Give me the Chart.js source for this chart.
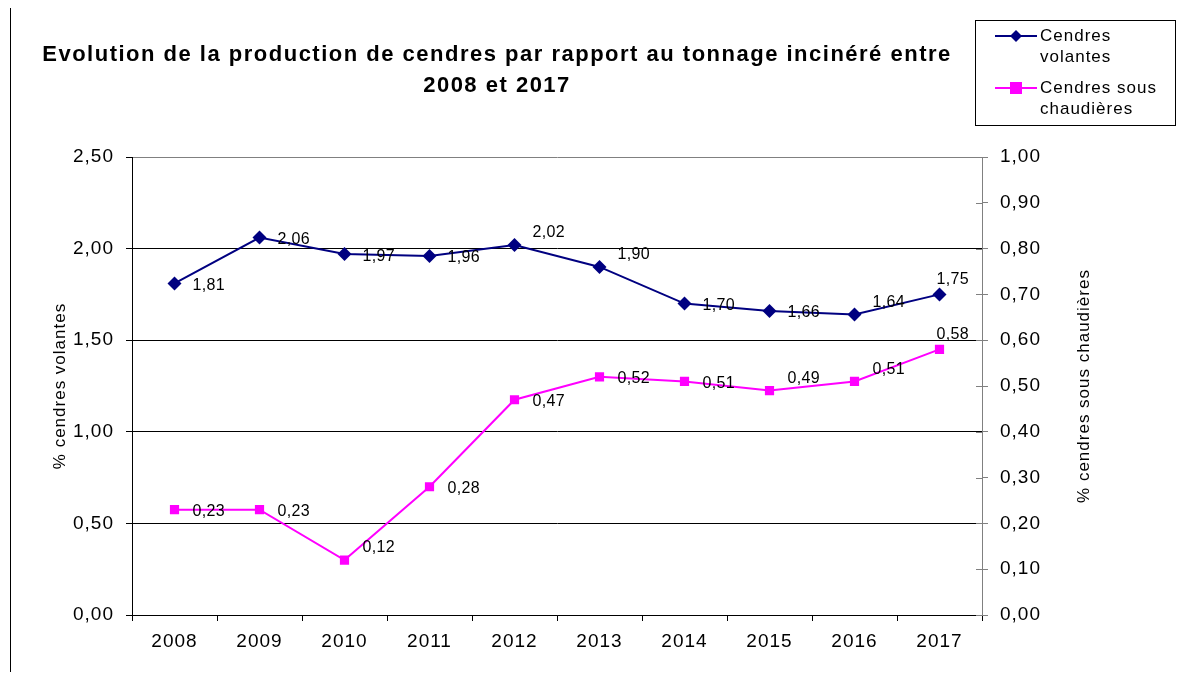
<!DOCTYPE html>
<html>
<head>
<meta charset="utf-8">
<script src="https://cdn.jsdelivr.net/npm/chart.js@4"></script>
<style>
  html, body { margin: 0; padding: 0; background: #fff; }
  #wrap { width: 1186px; height: 677px; position: relative; }
</style>
</head>
<body>
<div id="wrap"><canvas id="myChart"></canvas></div>
<script>
// donnees
const annees = ['2008', '2009', '2010', '2011', '2012', '2013', '2014', '2015', '2016', '2017'];
const cendresVolantes = [1.81, 2.06, 1.97, 1.96, 2.02, 1.90, 1.70, 1.66, 1.64, 1.75];
const cendresChaudieres = [0.23, 0.23, 0.12, 0.28, 0.47, 0.52, 0.51, 0.49, 0.51, 0.58];
const titre = ['Evolution de la production de cendres par rapport au tonnage incinéré entre', '2008 et 2017'];

const fmt = v => v.toFixed(2).replace('.', ',');
const FONT = '"Liberation Sans", Arial, sans-serif';

// position des etiquettes (droite par defaut, quelques-unes au-dessus)
const etiqVolantes = ['r', 'r', 'r', 'r', 'ur', 'ur', 'r', 'r', 'ur', 'up'];
const etiqChaud = ['r', 'r', 'ur', 'r', 'r', 'r', 'r', 'ur', 'ur', 'up'];

const espacement = {
  id: 'espacement',
  beforeDraw(chart) {
    chart.ctx.letterSpacing = '1px';
  }
};

const decor = {
  id: 'decor',
  afterDraw(chart) {
    const ctx = chart.ctx;
    const area = chart.chartArea;
    ctx.save();

    // trait vertical a gauche
    ctx.strokeStyle = '#000';
    ctx.lineWidth = 1;
    ctx.beginPath();
    ctx.moveTo(10.5, 8);
    ctx.lineTo(10.5, 672);
    ctx.stroke();

    // titre
    ctx.fillStyle = '#000';
    ctx.font = 'bold 22px ' + FONT;
    ctx.letterSpacing = '1.5px';
    ctx.textAlign = 'center';
    ctx.textBaseline = 'middle';
    ctx.fillText(titre[0], 497, 55);
    ctx.fillText(titre[1], 497, 86);

    // titres des axes
    ctx.font = '17px ' + FONT;
    ctx.letterSpacing = '1px';
    ctx.save();
    ctx.translate(60, (area.top + area.bottom) / 2);
    ctx.rotate(-Math.PI / 2);
    ctx.fillText('% cendres volantes', 0, 0);
    ctx.restore();
    ctx.save();
    ctx.translate(1084, (area.top + area.bottom) / 2);
    ctx.rotate(-Math.PI / 2);
    ctx.fillText('% cendres sous chaudières', 0, 0);
    ctx.restore();

    // petits traits interieurs sur l'axe de droite
    const y2 = chart.scales.y2;
    ctx.strokeStyle = '#808080';
    y2.ticks.forEach((t, i) => {
      const py = Math.round(y2.getPixelForTick(i)) + 0.5;
      ctx.beginPath();
      ctx.moveTo(area.right - 6, py);
      ctx.lineTo(area.right, py);
      ctx.stroke();
    });

    // etiquettes de donnees
    ctx.font = '16px ' + FONT;
    ctx.letterSpacing = '0.3px';
    ctx.fillStyle = '#000';
    ctx.textAlign = 'left';
    ctx.textBaseline = 'middle';
    const poses = [etiqVolantes, etiqChaud];
    chart.data.datasets.forEach((ds, di) => {
      const meta = chart.getDatasetMeta(di);
      meta.data.forEach((pt, i) => {
        const p = poses[di][i];
        let x = pt.x + 18, y = pt.y + 2;
        if (p === 'ur') { y = pt.y - 12; }
        if (p === 'up') { x = pt.x - 3; y = pt.y - 15; }
        ctx.fillText(fmt(ds.data[i]), x, y);
      });
    });

    // legende
    ctx.strokeStyle = '#000';
    ctx.lineWidth = 1;
    ctx.strokeRect(975.5, 20.5, 200, 105);
    const items = [
      { c: '#000080', style: 'rectRot', y: 36, l: ['Cendres', 'volantes'] },
      { c: '#FF00FF', style: 'rect', y: 88, l: ['Cendres sous', 'chaudières'] }
    ];
    items.forEach(it => {
      ctx.strokeStyle = it.c;
      ctx.lineWidth = 2;
      ctx.beginPath();
      ctx.moveTo(995, it.y);
      ctx.lineTo(1037, it.y);
      ctx.stroke();
      ctx.fillStyle = it.c;
      if (it.style === 'rect') {
        ctx.fillRect(1010, it.y - 6, 12, 12);
      } else {
        ctx.beginPath();
        ctx.moveTo(1016, it.y - 6);
        ctx.lineTo(1022, it.y);
        ctx.lineTo(1016, it.y + 6);
        ctx.lineTo(1010, it.y);
        ctx.closePath();
        ctx.fill();
      }
      ctx.fillStyle = '#000';
      ctx.font = '17px ' + FONT;
      ctx.letterSpacing = '1px';
      ctx.fillText(it.l[0], 1040, it.y);
      ctx.fillText(it.l[1], 1040, it.y + 21);
    });
    ctx.restore();
  }
};

const ctx = document.getElementById('myChart').getContext('2d');
new Chart(ctx, {
  type: 'line',
  data: {
    labels: annees,
    datasets: [{
      label: 'Cendres volantes',
      data: cendresVolantes,
      yAxisID: 'y',
      borderColor: '#000080',
      backgroundColor: '#000080',
      borderWidth: 2,
      pointStyle: 'rectRot',
      pointRadius: 7,
      pointBorderWidth: 0,
      tension: 0
    },
    {
      label: 'Cendres sous chaudières',
      data: cendresChaudieres,
      yAxisID: 'y2',
      borderColor: '#FF00FF',
      backgroundColor: '#FF00FF',
      borderWidth: 2,
      pointStyle: 'rect',
      pointRadius: 6.5,
      pointBorderWidth: 0,
      tension: 0
    }]
  },
  options: {
    responsive: true,
    maintainAspectRatio: false,
    animation: false,
    events: [],
    layout: { padding: { top: 157, left: 0, right: 0, bottom: 0 } },
    plugins: {
      legend: { display: false },
      title: { display: false },
      tooltip: { enabled: false }
    },
    scales: {
      x: {
        offset: true,
        afterFit: s => { s.height = 62; },
        grid: { offset: true, drawOnChartArea: false, color: '#000', tickLength: 6, tickColor: '#000' },
        border: { color: '#000', width: 1 },
        ticks: { color: '#000', padding: 9, font: { family: FONT, size: 19 }, maxRotation: 0, autoSkip: false }
      },
      y: {
        position: 'left',
        min: 0,
        max: 2.5,
        afterFit: s => { s.width = 132; },
        grid: {
          color: c => (c.index === 5 ? '#808080' : '#000'),
          tickLength: 6,
          tickColor: '#000'
        },
        border: { color: '#000', width: 1 },
        ticks: {
          stepSize: 0.5,
          color: '#000',
          padding: 12,
          font: { family: FONT, size: 19 },
          callback: v => fmt(v)
        }
      },
      y2: {
        position: 'right',
        min: 0,
        max: 1,
        afterFit: s => { s.width = 204; },
        grid: { drawOnChartArea: false, tickLength: 6, color: '#808080', tickColor: '#808080' },
        border: { color: '#808080', width: 1 },
        ticks: {
          stepSize: 0.1,
          color: '#000',
          padding: 12,
          font: { family: FONT, size: 19 },
          callback: v => fmt(v)
        }
      }
    }
  },
  plugins: [espacement, decor]
});
</script>
</body>
</html>
